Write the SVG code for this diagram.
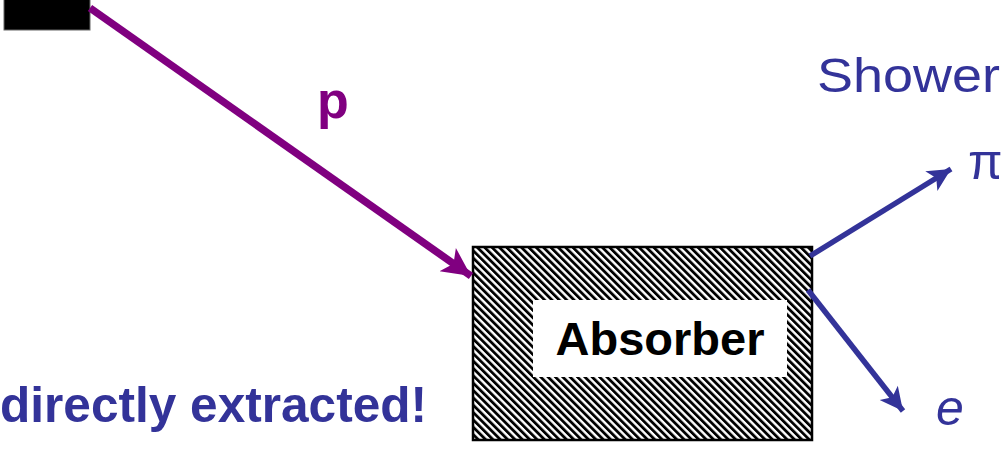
<svg xmlns="http://www.w3.org/2000/svg" width="1005" height="449" viewBox="0 0 1005 449">
  <style>
    .blue { fill: #333399; font-family: "Liberation Sans", Arial, sans-serif; }
    .beam { stroke: #800080; stroke-width: 7.5; fill: none; }
    .shw { stroke: #333399; stroke-width: 5.5; fill: none; }
  </style>
  <defs>
    <pattern id="hatch" width="5.2" height="5.2" patternUnits="userSpaceOnUse" patternTransform="rotate(-45)">
      <rect x="0" y="0" width="5.2" height="5.2" fill="#ffffff"/>
      <rect x="0" y="0" width="2.8" height="5.2" fill="#000000"/>
    </pattern>
    <marker id="arrPurple" viewBox="0 0 10 10" refX="10" refY="5" markerWidth="4.4" markerHeight="3.8" orient="auto" markerUnits="strokeWidth">
      <path d="M0,0 L10,5 L0,10 L2.5,5 Z" fill="#800080"/>
    </marker>
    <marker id="arrBlue" viewBox="0 0 10 10" refX="10" refY="5" markerWidth="5" markerHeight="4.2" orient="auto" markerUnits="strokeWidth">
      <path d="M0,0 L10,5 L0,10 L2.5,5 Z" fill="#333399"/>
    </marker>
  </defs>

  <!-- beam source -->
  <g id="source">
    <rect x="4" y="-2" width="86" height="32" fill="#000000" stroke="#666666" stroke-width="1"/>
  </g>

  <!-- absorber block -->
  <g id="absorber">
    <rect x="473" y="247" width="339" height="193" fill="url(#hatch)" stroke="#000000" stroke-width="2.5"/>
    <rect x="533" y="300" width="254" height="77" fill="#ffffff"/>
    <text x="660" y="355" text-anchor="middle" font-family="'Liberation Sans', Arial, sans-serif" font-weight="bold" font-size="47" fill="#000000">Absorber</text>
  </g>

  <!-- connectors -->
  <g id="connectors">
    <line class="beam" x1="90" y1="8" x2="471" y2="276" marker-end="url(#arrPurple)"/>
    <line class="shw" x1="810" y1="256" x2="951" y2="169" marker-end="url(#arrBlue)"/>
    <line class="shw" x1="808" y1="290" x2="903" y2="411" marker-end="url(#arrBlue)"/>
  </g>

  <!-- labels -->
  <g id="labels">
    <text x="333" y="118" text-anchor="middle" font-family="'Liberation Sans', Arial, sans-serif" font-weight="bold" font-size="52" fill="#800080">p</text>
    <text class="blue" x="817" y="92" font-size="48" textLength="183" lengthAdjust="spacingAndGlyphs">Shower</text>
    <text class="blue" x="968" y="179" font-family="'DejaVu Serif', serif" font-size="50">π</text>
    <text class="blue" x="936" y="425" font-size="50" font-style="italic">e</text>
    <text class="blue" x="0" y="422" font-size="50" font-weight="bold" textLength="427" lengthAdjust="spacingAndGlyphs">directly extracted!</text>
  </g>
</svg>
